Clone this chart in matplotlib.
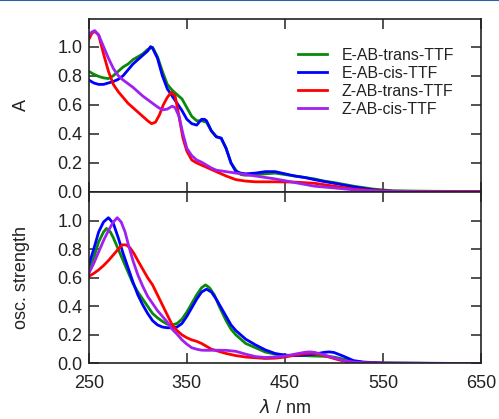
import matplotlib
matplotlib.use("Agg")
import matplotlib.pyplot as plt
from matplotlib.lines import Line2D

plt.rcParams['font.family'] = ['Liberation Sans', 'DejaVu Sans']

labels = ["E-AB-trans-TTF", "E-AB-cis-TTF", "Z-AB-trans-TTF", "Z-AB-cis-TTF"]
colors = ["#0a8a0a", "#0000ff", "#ff0000", "#a020f0"]

# ---- top panel: absorbance ----
abs_g_x = [250, 255, 260, 265, 270, 275, 280, 285, 290, 295, 300, 305, 310, 315, 320, 325, 330, 335, 340, 345,
           350, 355, 360, 365, 370, 375, 380, 385, 390, 395, 400, 405, 410, 420, 430, 440, 450, 460, 470, 480,
           490, 500, 520, 540, 560, 600, 650]
abs_g_y = [0.83, 0.81, 0.795, 0.785, 0.78, 0.80, 0.83, 0.86, 0.88, 0.91, 0.93, 0.95, 0.98, 0.995, 0.93, 0.83,
           0.74, 0.70, 0.67, 0.64, 0.58, 0.52, 0.49, 0.49, 0.48, 0.42, 0.38, 0.37, 0.30, 0.20, 0.15, 0.12, 0.115,
           0.12, 0.125, 0.13, 0.12, 0.11, 0.10, 0.09, 0.075, 0.065, 0.04, 0.02, 0.008, 0.005, 0.003]

abs_b_x = [250, 255, 260, 265, 270, 275, 280, 285, 290, 295, 300, 305, 310, 313, 315, 320, 325, 330, 335, 340,
           345, 350, 355, 360, 365, 368, 370, 375, 380, 385, 390, 395, 400, 405, 410, 420, 430, 440, 450, 460,
           470, 480, 490, 500, 520, 540, 560, 600, 650]
abs_b_y = [0.77, 0.75, 0.74, 0.74, 0.75, 0.76, 0.775, 0.80, 0.84, 0.88, 0.91, 0.94, 0.97, 1.0, 0.99, 0.92, 0.80,
           0.71, 0.66, 0.61, 0.56, 0.50, 0.47, 0.46, 0.50, 0.50, 0.49, 0.42, 0.38, 0.37, 0.30, 0.20, 0.14, 0.13,
           0.125, 0.13, 0.14, 0.14, 0.125, 0.11, 0.10, 0.085, 0.072, 0.06, 0.035, 0.015, 0.005, 0.003, 0.002]

abs_r_x = [250, 253, 256, 260, 265, 270, 275, 280, 285, 290, 295, 300, 305, 310, 314, 318, 322, 326, 330, 334,
           338, 342, 346, 350, 355, 360, 365, 370, 375, 380, 390, 400, 410, 420, 440, 460, 480, 500, 520, 540,
           560, 600, 650]
abs_r_y = [1.05, 1.09, 1.105, 1.08, 0.95, 0.83, 0.74, 0.69, 0.65, 0.61, 0.58, 0.55, 0.52, 0.49, 0.47, 0.48,
           0.53, 0.60, 0.65, 0.685, 0.66, 0.52, 0.37, 0.28, 0.22, 0.20, 0.185, 0.17, 0.155, 0.14, 0.11, 0.085,
           0.075, 0.07, 0.07, 0.068, 0.06, 0.04, 0.02, 0.01, 0.005, 0.003, 0.002]

abs_p_x = [250, 253, 256, 260, 265, 270, 275, 280, 285, 290, 295, 300, 305, 310, 315, 320, 325, 330, 335, 338,
           342, 346, 350, 355, 360, 365, 370, 375, 380, 390, 400, 410, 420, 440, 460, 480, 500, 520, 540, 560,
           600, 650]
abs_p_y = [1.08, 1.10, 1.11, 1.08, 1.00, 0.92, 0.85, 0.80, 0.77, 0.745, 0.72, 0.69, 0.66, 0.635, 0.61, 0.585,
           0.565, 0.57, 0.59, 0.58, 0.52, 0.40, 0.30, 0.25, 0.22, 0.205, 0.185, 0.165, 0.15, 0.14, 0.13, 0.12,
           0.11, 0.09, 0.065, 0.04, 0.028, 0.015, 0.007, 0.004, 0.002, 0.001]

# ---- bottom panel: oscillator strength ----
osc_b_x = [250, 255, 260, 265, 270, 275, 280, 285, 290, 295, 300, 305, 310, 315, 320, 325, 330, 335, 340, 345,
           350, 355, 360, 365, 370, 375, 380, 385, 390, 395, 400, 410, 420, 430, 440, 450, 460, 470, 480, 490,
           495, 500, 510, 520, 530, 550, 600, 650]
osc_b_y = [0.69, 0.80, 0.92, 0.99, 1.02, 0.98, 0.88, 0.77, 0.67, 0.57, 0.48, 0.41, 0.35, 0.30, 0.27, 0.255,
           0.25, 0.25, 0.255, 0.28, 0.33, 0.39, 0.45, 0.50, 0.52, 0.50, 0.45, 0.39, 0.33, 0.27, 0.23, 0.17, 0.13,
           0.095, 0.07, 0.058, 0.055, 0.058, 0.065, 0.078, 0.081, 0.077, 0.05, 0.02, 0.01, 0.003, 0.001, 0.0]

osc_g_x = [250, 255, 260, 265, 268, 272, 275, 280, 285, 290, 295, 300, 305, 310, 315, 320, 325, 330, 335, 340,
           345, 350, 355, 360, 365, 369, 373, 378, 383, 390, 395, 400, 410, 420, 430, 440, 450, 460, 470, 480,
           490, 500, 510, 520, 530, 550, 600, 650]
osc_g_y = [0.64, 0.74, 0.85, 0.92, 0.945, 0.92, 0.88, 0.80, 0.72, 0.64, 0.56, 0.50, 0.45, 0.40, 0.35, 0.32,
           0.295, 0.275, 0.27, 0.28, 0.31, 0.36, 0.42, 0.48, 0.53, 0.55, 0.53, 0.48, 0.40, 0.30, 0.24, 0.20, 0.14,
           0.11, 0.08, 0.065, 0.058, 0.055, 0.055, 0.052, 0.05, 0.045, 0.03, 0.015, 0.008, 0.003, 0.001, 0.0]

osc_r_x = [250, 255, 260, 265, 270, 275, 280, 284, 288, 292, 296, 300, 305, 310, 315, 320, 325, 330, 335, 340,
           345, 350, 355, 360, 365, 370, 375, 380, 390, 400, 410, 420, 430, 440, 450, 460, 470, 478, 485, 495,
           505, 515, 530, 560, 650]
osc_r_y = [0.61, 0.63, 0.655, 0.685, 0.72, 0.76, 0.80, 0.83, 0.83, 0.81, 0.77, 0.72, 0.66, 0.60, 0.55, 0.48,
           0.41, 0.34, 0.27, 0.23, 0.20, 0.18, 0.165, 0.155, 0.14, 0.12, 0.10, 0.09, 0.07, 0.055, 0.045, 0.04,
           0.035, 0.037, 0.045, 0.058, 0.068, 0.072, 0.065, 0.045, 0.025, 0.01, 0.004, 0.001, 0.0]

osc_p_x = [250, 255, 260, 265, 270, 275, 279, 283, 287, 290, 295, 300, 305, 310, 315, 320, 325, 330, 335, 340,
           345, 350, 355, 360, 365, 370, 380, 390, 400, 410, 420, 430, 440, 450, 460, 470, 475, 480, 490, 500,
           510, 520, 530, 550, 600, 650]
osc_p_y = [0.63, 0.70, 0.78, 0.86, 0.93, 0.99, 1.02, 0.99, 0.92, 0.84, 0.72, 0.62, 0.54, 0.47, 0.42, 0.37,
           0.33, 0.29, 0.24, 0.205, 0.165, 0.135, 0.11, 0.10, 0.093, 0.092, 0.093, 0.092, 0.085, 0.065, 0.048,
           0.042, 0.045, 0.052, 0.065, 0.078, 0.081, 0.078, 0.06, 0.04, 0.02, 0.01, 0.005, 0.002, 0.001, 0.0]

x_ticks = [250, 350, 450, 550, 650]
y_ticks = [0.0, 0.2, 0.4, 0.6, 0.8, 1.0]

fig = plt.figure(figsize=(4.99, 4.19), dpi=100)
fig.add_artist(Line2D([0, 1], [0.999, 0.999], color="#2a64a8", lw=1.5, transform=fig.transFigure))

ax1 = fig.add_axes([0.178, 0.5418, 0.786, 0.4129])
ax2 = fig.add_axes([0.178, 0.1325, 0.786, 0.4093])

top = [(abs_g_x, abs_g_y), (abs_b_x, abs_b_y), (abs_r_x, abs_r_y), (abs_p_x, abs_p_y)]
bot = [(osc_g_x, osc_g_y), (osc_b_x, osc_b_y), (osc_r_x, osc_r_y), (osc_p_x, osc_p_y)]

lw = 2.0
for (x, y), c, l in zip(top, colors, labels):
    ax1.plot(x, y, color=c, lw=lw, label=l, solid_joinstyle='round')
for (x, y), c in zip(bot, colors):
    ax2.plot(x, y, color=c, lw=lw, solid_joinstyle='round')

for ax in (ax1, ax2):
    ax.set_xlim(250, 650)
    ax.set_xticks(x_ticks)
    ax.set_yticks(y_ticks)
    ax.set_yticklabels([f"{v:.1f}" for v in y_ticks])
    ax.tick_params(direction='in', length=7, width=1.1, top=True, right=True,
                   labelsize=13, colors='#222222')
    ax.tick_params(axis='y', pad=4.5)
    ax.tick_params(axis='x', pad=8)
    for s in ax.spines.values():
        s.set_linewidth(1.2)
        s.set_color('#222222')

ax1.set_ylim(0, 1.19)
ax2.set_ylim(0, 1.2)
ax1.tick_params(labelbottom=False)

ax1.set_ylabel("A", fontsize=13, color='#222222')
ax2.set_ylabel("osc. strength", fontsize=13, color='#222222')
ax2.set_xlabel(r"$\lambda$ / nm", fontsize=13, color='#222222', labelpad=5)
ax1.yaxis.set_label_coords(-0.15, 0.5)
ax2.yaxis.set_label_coords(-0.15, 0.5)

leg = ax1.legend(loc='upper right', bbox_to_anchor=(0.955, 0.89), frameon=False, fontsize=11.4,
                 handlelength=1.85, handletextpad=0.9, labelspacing=0.2, borderaxespad=0.2)
for t in leg.get_texts():
    t.set_color('#222222')

fig.savefig("out.png", dpi=100)
